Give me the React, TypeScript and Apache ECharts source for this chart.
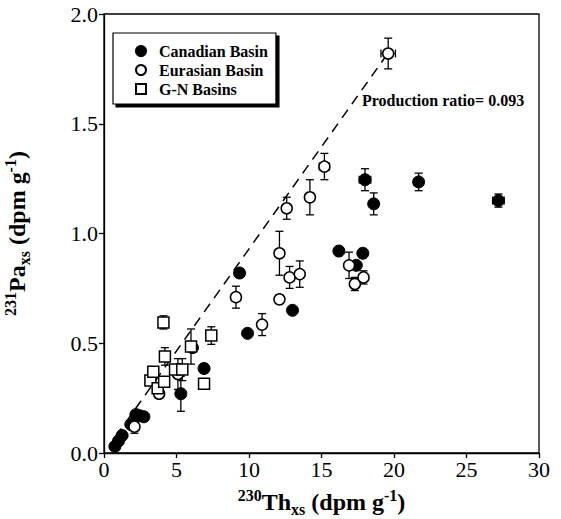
import React, { useEffect, useRef } from "react";
import * as echarts from "echarts";

// [x (230Th xs), y (231Pa xs), yErr, xErr]
const canadianBasin: number[][] = [
  [0.75, 0.03, 0, 0],
  [1.0, 0.055, 0, 0],
  [1.25, 0.08, 0, 0],
  [1.85, 0.13, 0, 0],
  [2.2, 0.175, 0, 0],
  [2.45, 0.17, 0, 0],
  [2.75, 0.165, 0, 0],
  [5.3, 0.27, 0.08, 0],
  [6.1, 0.48, 0, 0],
  [6.9, 0.385, 0, 0],
  [9.35, 0.82, 0.02, 0],
  [9.9, 0.545, 0, 0],
  [13.0, 0.65, 0, 0],
  [16.2, 0.92, 0.02, 0],
  [17.4, 0.855, 0, 0],
  [17.85, 0.91, 0.02, 0],
  [18.0, 1.245, 0.05, 0.4],
  [18.6, 1.135, 0.05, 0],
  [21.7, 1.235, 0.04, 0.3],
  [27.2, 1.15, 0.03, 0.4],
];

const eurasianBasin: number[][] = [
  [2.1, 0.12, 0.03, 0],
  [3.8, 0.27, 0.02, 0],
  [5.1, 0.36, 0.07, 0],
  [9.1, 0.71, 0.05, 0],
  [10.9, 0.585, 0.05, 0],
  [12.1, 0.70, 0.02, 0],
  [12.1, 0.91, 0.10, 0],
  [12.8, 0.80, 0.05, 0],
  [13.5, 0.815, 0.06, 0],
  [12.6, 1.115, 0.05, 0],
  [14.2, 1.165, 0.08, 0.3],
  [15.2, 1.305, 0.06, 0.35],
  [16.9, 0.855, 0.06, 0],
  [17.3, 0.77, 0.03, 0],
  [17.9, 0.80, 0.03, 0],
  [19.6, 1.82, 0.07, 0.5],
];

const gnBasins: number[][] = [
  [3.2, 0.33, 0.02, 0],
  [3.4, 0.37, 0, 0],
  [3.7, 0.295, 0, 0],
  [4.15, 0.325, 0, 0],
  [4.1, 0.595, 0.03, 0],
  [4.2, 0.44, 0.04, 0],
  [4.9, 0.38, 0, 0],
  [5.4, 0.38, 0.05, 0],
  [6.0, 0.485, 0.08, 0],
  [6.9, 0.315, 0, 0],
  [7.4, 0.535, 0.04, 0],
];

const productionRatio = 0.093;
const productionLineX = [0.8, 19.6];

const xTicks = [0, 5, 10, 15, 20, 25, 30];
const yTicks = ["0.0", "0.5", "1.0", "1.5", "2.0"];

const FONT = "Liberation Serif";

function errorBarRender(params: any, api: any) {
  const x = api.value(0);
  const y = api.value(1);
  const ey = api.value(2);
  const ex = api.value(3);
  const cap = 4;
  const children: any[] = [];
  const style = { stroke: "#000", lineWidth: 1.3 };
  if (ey > 0) {
    const top = api.coord([x, y + ey]);
    const bot = api.coord([x, y - ey]);
    children.push({ type: "line", shape: { x1: top[0], y1: top[1], x2: bot[0], y2: bot[1] }, style });
    children.push({ type: "line", shape: { x1: top[0] - cap, y1: top[1], x2: top[0] + cap, y2: top[1] }, style });
    children.push({ type: "line", shape: { x1: bot[0] - cap, y1: bot[1], x2: bot[0] + cap, y2: bot[1] }, style });
  }
  if (ex > 0) {
    const l = api.coord([x - ex, y]);
    const r = api.coord([x + ex, y]);
    children.push({ type: "line", shape: { x1: l[0], y1: l[1], x2: r[0], y2: r[1] }, style });
    children.push({ type: "line", shape: { x1: l[0], y1: l[1] - cap, x2: l[0], y2: l[1] + cap }, style });
    children.push({ type: "line", shape: { x1: r[0], y1: r[1] - cap, x2: r[0], y2: r[1] + cap }, style });
  }
  return { type: "group", children };
}

const rich = {
  m: { fontFamily: FONT, fontWeight: "bold", fontSize: 24, color: "#000", lineHeight: 30, verticalAlign: "middle" },
  sup: { fontFamily: FONT, fontWeight: "bold", fontSize: 16, color: "#000", lineHeight: 16, verticalAlign: "top" },
  sub: { fontFamily: FONT, fontWeight: "bold", fontSize: 16, color: "#000", lineHeight: 16, verticalAlign: "bottom" },
};

const tickRich = { t: { fontFamily: FONT, fontSize: 22, color: "#000", fontWeight: "normal" } };

export default function App() {
  const ref = useRef<HTMLDivElement>(null);
  useEffect(() => {
    if (!ref.current) return;
    const chart = echarts.init(ref.current, undefined, { renderer: "svg" });
    const line = productionLineX.map((x) => [x, +(x * productionRatio).toFixed(4)]);
    chart.setOption({
      animation: false,
      backgroundColor: "#fff",
      textStyle: { fontFamily: FONT },
      grid: {
        left: 104,
        right: 22,
        top: 14,
        bottom: 66,
        show: true,
        borderColor: "#000",
        borderWidth: 1.3,
        containLabel: false,
        outerBoundsMode: "none",
      },
      xAxis: {
        type: "value",
        min: xTicks[0],
        max: xTicks[xTicks.length - 1],
        interval: 5,
        axisLine: { lineStyle: { color: "#000", width: 1.3 } },
        axisTick: { inside: false, length: 5, lineStyle: { color: "#000", width: 1.3 } },
        axisLabel: {
          color: "#000",
          fontSize: 22,
          fontFamily: FONT,
          margin: 5,
          rich: tickRich,
          formatter: (v: number) => `{t|${v}}`,
        },
        splitLine: { show: false },
        name: "{sup|230}{m|Th}{sub|xs}{m| (dpm g}{sup|-1}{m|)}",
        nameLocation: "middle",
        nameGap: 34,
        nameTextStyle: { rich },
      },
      yAxis: {
        type: "value",
        min: 0,
        max: 2,
        interval: 0.5,
        axisLine: { lineStyle: { color: "#000", width: 1.3 } },
        axisTick: { inside: false, length: 5, lineStyle: { color: "#000", width: 1.3 } },
        axisLabel: {
          color: "#000",
          fontSize: 22,
          fontFamily: FONT,
          margin: 6,
          rich: tickRich,
          formatter: (v: number) => `{t|${yTicks[Math.round(v / 0.5)] ?? v.toFixed(1)}}`,
        },
        splitLine: { show: false },
        name: "{sup|231}{m|Pa}{sub|xs}{m| (dpm g}{sup|-1}{m|)}",
        nameLocation: "middle",
        nameRotate: 90,
        nameGap: 72,
        nameTextStyle: { rich },
      },
      legend: {
        left: 113,
        top: 33,
        orient: "vertical",
        backgroundColor: "#fff",
        borderColor: "#000",
        borderWidth: 1.2,
        shadowColor: "rgba(0,0,0,1)",
        shadowBlur: 1,
        shadowOffsetX: 3,
        shadowOffsetY: 3,
        padding: [10, 8, 7, 22],
        itemWidth: 10,
        itemHeight: 10,
        itemGap: 3,
        textStyle: { fontFamily: FONT, fontWeight: "bold", fontSize: 16, color: "#000", padding: [0, 0, 0, 8] },
        data: [
          { name: "Canadian Basin", icon: "circle" },
          { name: "Eurasian Basin", icon: "circle" },
          { name: "G-N Basins", icon: "rect" },
        ],
      },
      graphic: [
        {
          type: "text",
          left: 362,
          top: 92,
          style: { text: "Production ratio= 0.093", font: `bold 16px ${FONT}`, fill: "#000" },
        },
      ],
      series: [
        {
          type: "line",
          data: line,
          symbol: "none",
          lineStyle: { color: "#000", width: 1.5, type: [10, 7] },
          z: 1,
          silent: true,
        },
        { type: "custom", renderItem: errorBarRender, data: canadianBasin, encode: { x: 0, y: 1 }, z: 2 },
        { type: "custom", renderItem: errorBarRender, data: eurasianBasin, encode: { x: 0, y: 1 }, z: 2 },
        { type: "custom", renderItem: errorBarRender, data: gnBasins, encode: { x: 0, y: 1 }, z: 2 },
        {
          name: "Canadian Basin",
          type: "scatter",
          symbol: "circle",
          symbolSize: 12,
          data: canadianBasin.map((d) => [d[0], d[1]]),
          itemStyle: { color: "#000", borderColor: "#000", borderWidth: 1, opacity: 1 },
          z: 3,
        },
        {
          name: "Eurasian Basin",
          type: "scatter",
          symbol: "circle",
          symbolSize: 11,
          data: eurasianBasin.map((d) => [d[0], d[1]]),
          itemStyle: { color: "#fff", borderColor: "#000", borderWidth: 1.5, opacity: 1 },
          z: 4,
        },
        {
          name: "G-N Basins",
          type: "scatter",
          symbol: "rect",
          symbolSize: 11,
          data: gnBasins.map((d) => [d[0], d[1]]),
          itemStyle: { color: "#fff", borderColor: "#000", borderWidth: 1.5, opacity: 1 },
          z: 5,
        },
      ],
    });
    return () => chart.dispose();
  }, []);
  return <div ref={ref} style={{ position: "fixed", left: 0, top: 0, width: 561, height: 519 }} />;
}
